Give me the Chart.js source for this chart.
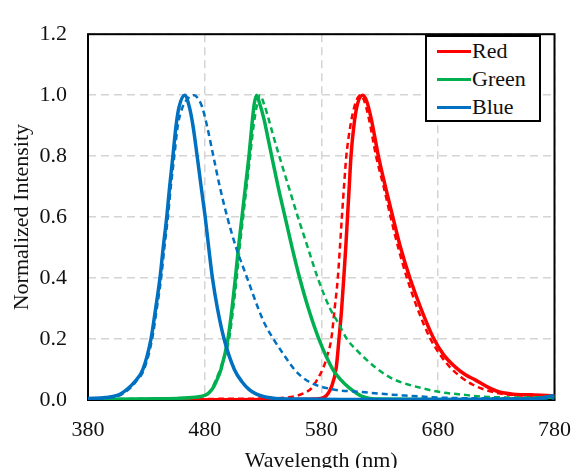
<!DOCTYPE html>
<html>
<head>
<meta charset="utf-8">
<script src="https://cdn.jsdelivr.net/npm/chart.js@4.4.1/dist/chart.umd.min.js"></script>
<style>
  html, body { margin: 0; padding: 0; background: #fff; overflow: hidden; }
  #wrap { position: relative; width: 588px; height: 480px; }
  #leyenda {
    position: absolute; left: 425px; top: 35px; width: 112px; height: 83px;
    border: 2px solid #000; background: #fff;
    font-family: "Liberation Serif", "Times New Roman", serif; font-size: 22px; color: #111;
  }
  .item { position: absolute; left: 10px; height: 24px; line-height: 24px; }
  .item i { position: absolute; left: 0; top: 11px; width: 34px; height: 3px; }
  .item span { position: absolute; left: 35px; top: 0; white-space: nowrap; }
</style>
</head>
<body>
<div id="wrap">
  <canvas id="espectro"></canvas>
  <div id="leyenda"></div>
</div>
<script>
// nombres y colores de las series
var seriesNames = ["Red", "Green", "Blue"];
var seriesColors = ["#ff0000", "#00b050", "#0070c0"];

// ejes
var xTicks = [380, 480, 580, 680, 780];
var yTicks = [0.0, 0.2, 0.4, 0.6, 0.8, 1.0, 1.2];

// Blue (solida y punteada)
var blueSolidNm = [380, 395, 405, 410, 415, 420, 427, 434, 438, 441.7, 444.5, 447.5, 450, 452.8, 455.5, 458, 463, 467, 470, 473.6, 477, 480.5, 483.5, 486.7, 491, 496.7, 505.5, 512, 518, 524, 532, 541, 560, 600, 700, 760, 780];
var blueSolidI  = [0.005, 0.008, 0.015, 0.025, 0.04, 0.06, 0.1, 0.2, 0.3, 0.4, 0.5, 0.6, 0.7, 0.8, 0.9, 0.96, 1.0, 0.96, 0.9, 0.8, 0.7, 0.6, 0.5, 0.4, 0.3, 0.2, 0.1, 0.06, 0.035, 0.02, 0.01, 0.005, 0.003, 0.002, 0.002, 0.003, 0.015];
var blueDashNm = [380, 405, 415, 421, 428, 435, 439, 442.7, 445.5, 448.5, 451, 454, 457, 461, 466, 471, 475, 478, 482, 487.5, 493, 499.4, 507, 516.5, 526, 531.5, 539, 548, 557, 568, 587, 615, 650, 700, 780];
var blueDashI  = [0.004, 0.012, 0.035, 0.06, 0.1, 0.2, 0.3, 0.4, 0.5, 0.6, 0.7, 0.8, 0.9, 0.96, 0.99, 1.0, 0.985, 0.96, 0.9, 0.8, 0.7, 0.6, 0.5, 0.4, 0.3, 0.25, 0.2, 0.148, 0.1, 0.063, 0.037, 0.026, 0.015, 0.006, 0.005];

// Green
var greenSolidNm = [380, 440, 460, 474, 480, 484, 488, 491, 494, 500, 503.5, 506.4, 509, 512, 515, 518, 520.5, 522.5, 524.5, 527, 531, 534, 537.5, 543, 549, 555, 561.5, 569, 578, 590, 597, 604, 615, 630, 700, 760, 780];
var greenSolidI  = [0.002, 0.004, 0.006, 0.01, 0.015, 0.025, 0.045, 0.07, 0.1, 0.2, 0.3, 0.4, 0.5, 0.6, 0.7, 0.8, 0.9, 0.97, 1.0, 0.975, 0.92, 0.865, 0.8, 0.7, 0.6, 0.5, 0.4, 0.3, 0.2, 0.1, 0.065, 0.04, 0.012, 0.003, 0.002, 0.005, 0.01];
var greenDashNm = [380, 470, 480, 485, 489, 495, 501, 504.5, 507.5, 510, 513, 516, 519, 522, 525, 527.5, 531, 535, 539, 544, 552, 560, 568.5, 577, 587.5, 595, 602, 610, 618, 627, 640, 651, 665, 682, 700, 723, 760, 780];
var greenDashI  = [0.003, 0.008, 0.015, 0.03, 0.06, 0.12, 0.2, 0.3, 0.4, 0.5, 0.6, 0.7, 0.8, 0.9, 0.97, 1.0, 0.97, 0.92, 0.865, 0.8, 0.7, 0.6, 0.5, 0.4, 0.3, 0.25, 0.2, 0.165, 0.135, 0.105, 0.072, 0.055, 0.04, 0.026, 0.018, 0.01, 0.008, 0.012];

// Red
var redSolidNm = [380, 500, 560, 575, 583, 588.6, 592.8, 595.2, 597.5, 599.3, 601, 602.5, 604, 605.5, 608, 611, 615.5, 619, 623, 629, 635, 641.4, 648, 656, 665.5, 676, 685, 695, 704, 712, 722, 732, 745, 760, 780];
var redSolidI  = [0.0, 0.001, 0.002, 0.003, 0.01, 0.042, 0.105, 0.2, 0.3, 0.4, 0.5, 0.6, 0.7, 0.8, 0.9, 0.97, 1.0, 0.98, 0.92, 0.8, 0.7, 0.6, 0.5, 0.4, 0.3, 0.205, 0.148, 0.108, 0.082, 0.066, 0.044, 0.027, 0.019, 0.017, 0.013];
var redDashNm = [380, 470, 500, 530, 554, 565, 572, 577, 581.7, 585.5, 588.6, 591.5, 594.2, 596, 597.7, 599.5, 601.5, 605, 609, 613.6, 617, 621, 627, 633.5, 639.5, 646, 653.5, 662.5, 673, 682, 691, 700, 710, 720, 732, 750, 780];
var redDashI  = [0.0, 0.003, 0.004, 0.005, 0.01, 0.022, 0.04, 0.07, 0.105, 0.15, 0.2, 0.3, 0.4, 0.5, 0.6, 0.7, 0.8, 0.9, 0.97, 1.0, 0.98, 0.92, 0.8, 0.7, 0.6, 0.5, 0.4, 0.3, 0.205, 0.148, 0.105, 0.075, 0.05, 0.034, 0.022, 0.015, 0.012];

function puntos(xs, ys) {
  return xs.map(function (x, i) { return { x: x, y: ys[i] }; });
}

function serie(nombre, color, xs, ys, punteada) {
  return {
    label: nombre + (punteada ? " (dashed)" : ""),
    data: puntos(xs, ys),
    borderColor: color,
    borderWidth: punteada ? 2.5 : 3.5,
    borderDash: punteada ? [6, 4] : [],
    showLine: true,
    pointRadius: 0,
    cubicInterpolationMode: "monotone",
    fill: false,
  };
}

// caja negra alrededor del area del grafico
var marco = {
  id: "marco",
  beforeDatasetsDraw: function (chart) {
    var a = chart.chartArea, c = chart.ctx;
    c.save();
    c.strokeStyle = "#000";
    c.lineWidth = 2;
    c.strokeRect(a.left, a.top, a.right - a.left, a.bottom - a.top);
    c.restore();
  },
};

var fuente = { family: "'Liberation Serif', 'Times New Roman', serif", size: 22 };

var ctx = document.getElementById("espectro").getContext("2d");
var myChart = new Chart(ctx, {
  type: "scatter",
  data: {
    datasets: [
      serie(seriesNames[2], seriesColors[2], blueSolidNm, blueSolidI, false),
      serie(seriesNames[2], seriesColors[2], blueDashNm, blueDashI, true),
      serie(seriesNames[1], seriesColors[1], greenSolidNm, greenSolidI, false),
      serie(seriesNames[1], seriesColors[1], greenDashNm, greenDashI, true),
      serie(seriesNames[0], seriesColors[0], redSolidNm, redSolidI, false),
      serie(seriesNames[0], seriesColors[0], redDashNm, redDashI, true),
    ],
  },
  options: {
    responsive: true,
    maintainAspectRatio: false,
    animation: false,
    layout: { padding: { left: 0, top: 20, right: 17, bottom: 0 } },
    plugins: { legend: { display: false }, tooltip: { enabled: false } },
    scales: {
      x: {
        type: "linear",
        min: xTicks[0],
        max: xTicks[xTicks.length - 1],
        afterFit: function (s) { s.height = 80; },
        afterBuildTicks: function (s) { s.ticks = xTicks.map(function (v) { return { value: v }; }); },
        ticks: { font: fuente, color: "#111", padding: 17, maxRotation: 0, autoSkip: false },
        grid: { color: "#d4d4d4", lineWidth: 1.5, drawTicks: false },
        border: { display: false, dash: [8, 5] },
        title: { display: true, text: "Wavelength (nm)", font: fuente, color: "#111", padding: { top: 0, bottom: 6 } },
      },
      y: {
        type: "linear",
        min: yTicks[0],
        max: yTicks[yTicks.length - 1],
        afterFit: function (s) { s.width = 88; },
        afterBuildTicks: function (s) { s.ticks = yTicks.map(function (v) { return { value: v }; }); },
        ticks: {
          font: fuente, color: "#111", padding: 21,
          callback: function (v) { return Number(v).toFixed(1); },
        },
        grid: { color: "#d4d4d4", lineWidth: 1.5, drawTicks: false },
        border: { display: false, dash: [8, 5] },
        title: { display: true, text: "Normalized Intensity", font: fuente, color: "#111", padding: { top: 9, bottom: 0 } },
      },
    },
  },
  plugins: [marco],
});

// leyenda (solo las lineas solidas)
var leyenda = document.getElementById("leyenda");
var filaTop = [2, 30, 58];
seriesNames.forEach(function (n, i) {
  var d = document.createElement("div");
  d.className = "item";
  d.style.top = filaTop[i] + "px";
  d.innerHTML = '<i style="background:' + seriesColors[i] + '"></i><span>' + n + "</span>";
  leyenda.appendChild(d);
});
</script>
</body>
</html>
